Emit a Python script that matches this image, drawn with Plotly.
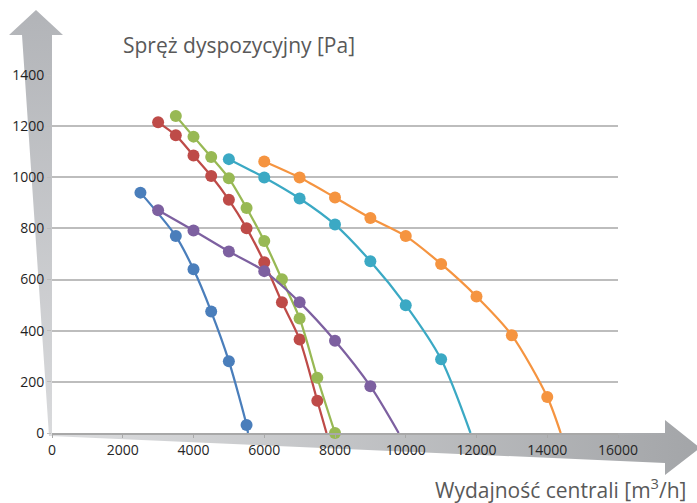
import plotly.graph_objects as go
import base64

# ---- data ----
blue_x = [2500, 3500, 4000, 4500, 5000, 5500]
blue_y = [940, 770, 640, 475, 281, 31]
red_x = [3000, 3500, 4000, 4500, 5000, 5500, 6000, 6500, 7000, 7500]
red_y = [1215, 1164, 1085, 1005, 912, 801, 668, 511, 366, 126]
green_x = [3500, 4000, 4500, 5000, 5500, 6000, 6500, 7000, 7500, 8000]
green_y = [1240, 1159, 1079, 996, 880, 751, 601, 448, 216, 0]
purple_x = [3000, 4000, 5000, 6000, 7000, 8000, 9000]
purple_y = [871, 792, 710, 633, 511, 361, 183]
cyan_x = [5000, 6000, 7000, 8000, 9000, 10000, 11000]
cyan_y = [1071, 999, 917, 815, 672, 500, 288]
orange_x = [6000, 7000, 8000, 9000, 10000, 11000, 12000, 13000, 14000]
orange_y = [1062, 999, 921, 841, 770, 661, 534, 382, 141]

# where each curve meets the x axis (line continues past last marker)
end_x = {"blue": 5540, "red": 7760, "green": None, "purple": 9800, "cyan": 11830, "orange": 14380}

x_ticks = [0, 2000, 4000, 6000, 8000, 10000, 12000, 14000, 16000]
y_ticks = [0, 200, 400, 600, 800, 1000, 1200, 1400]

series = [
    ("blue", blue_x, blue_y, "#4a7ebb"),
    ("red", red_x, red_y, "#be4b48"),
    ("green", green_x, green_y, "#98b954"),
    ("purple", purple_x, purple_y, "#7d60a0"),
    ("cyan", cyan_x, cyan_y, "#3ba9c4"),
    ("orange", orange_x, orange_y, "#f59440"),
]

fig = go.Figure()
for name, xs, ys, col in series:
    lx, ly = list(xs), list(ys)
    if end_x[name] is not None:
        lx.append(end_x[name])
        ly.append(0)
    fig.add_trace(go.Scatter(x=lx, y=ly, mode="lines",
                             line=dict(color=col, width=2.25, shape="spline", smoothing=0.8),
                             hoverinfo="skip", showlegend=False, cliponaxis=True))
    fig.add_trace(go.Scatter(x=xs, y=ys, mode="markers",
                             marker=dict(color=col, size=12, line=dict(width=0)),
                             showlegend=False, cliponaxis=False, name=name))

W, H = 697, 503

def P(x, y):
    return f"{x},{y}"

y_arrow = " ".join(P(*p) for p in [(36, 10), (63, 35), (52, 35), (52, 436), (49, 436), (22, 35), (9, 35)])
x_arrow = " ".join(P(*p) for p in [(50, 433), (665, 433), (665, 420), (700, 448), (665, 475), (665, 463), (50, 436)])

svg = f'''<svg xmlns="http://www.w3.org/2000/svg" width="{W}" height="{H}" viewBox="0 0 {W} {H}" preserveAspectRatio="none">
<defs>
<linearGradient id="gy" x1="0" y1="1" x2="0" y2="0">
<stop offset="0" stop-color="#d9dadc"/><stop offset="1" stop-color="#b2b4b8"/>
</linearGradient>
<linearGradient id="gx" x1="0" y1="0" x2="1" y2="0">
<stop offset="0" stop-color="#dcdddf"/><stop offset="1" stop-color="#a3a5a8"/>
</linearGradient>
</defs>
<polygon points="{y_arrow}" fill="url(#gy)"/>
<polygon points="{x_arrow}" fill="url(#gx)"/>
</svg>'''
src = "data:image/svg+xml;base64," + base64.b64encode(svg.encode()).decode()

# plot area in window pixels: x 52..618, y 75..433
L, T = 52, 75
R, B = W - 618, H - 433
pw, ph = W - L - R, H - T - B
fig.add_layout_image(dict(source=src, xref="paper", yref="paper",
                          x=-L / pw, y=1 + T / ph, sizex=W / pw, sizey=H / ph,
                          xanchor="left", yanchor="top", sizing="stretch", layer="below"))

def px_x(x):
    return (x - L) / pw

def px_y(y):
    return 1 - (y - T) / ph

fig.update_layout(
    width=W, height=H,
    margin=dict(l=L, r=R, t=T, b=B),
    paper_bgcolor="white", plot_bgcolor="rgba(0,0,0,0)",
    font=dict(family="Open Sans", color="#262626", size=14),
    annotations=[
        dict(text="Spręż dyspozycyjny [Pa]", xref="paper", yref="paper",
             x=px_x(121), y=px_y(45), xanchor="left", yanchor="middle",
             showarrow=False, font=dict(size=21, color="#595959", family="Open Sans")),
        dict(text="Wydajność centrali [m<sup>3</sup>/h]", xref="paper", yref="paper",
             x=px_x(688), y=px_y(488), xanchor="right", yanchor="middle",
             showarrow=False, font=dict(size=21, color="#595959", family="Open Sans")),
    ],
)
fig.update_xaxes(range=[0, 16000], tickvals=x_ticks, ticktext=[str(v) for v in x_ticks],
                 showgrid=False, zeroline=False, showline=True, linecolor="#a8a8a8", linewidth=1.5,
                 ticks="outside", ticklen=3, tickcolor="#a8a8a8", tickfont=dict(size=14, color="#262626"),
                 fixedrange=True)
fig.update_yaxes(range=[0, 1400], tickvals=y_ticks, ticktext=[str(v) for v in y_ticks],
                 showgrid=True, gridcolor="#bdbdbd", gridwidth=1.5, zeroline=False,
                 showline=False, ticks="outside", ticklen=4, tickcolor="#bdbdbd",
                 tickfont=dict(size=14, color="#1f1f1f"), fixedrange=True)

fig.write_html("out.html", config={"displayModeBar": False},
               post_script="document.body.style.margin='0';document.body.style.overflow='hidden';")
